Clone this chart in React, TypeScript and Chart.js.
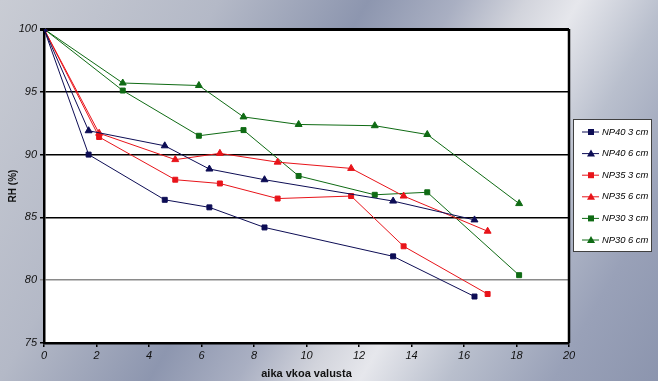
import React, { useEffect, useRef } from "react";
import { Chart, registerables } from "chart.js";

Chart.register(...registerables);

const seriesNames = ["NP40 3 cm", "NP40 6 cm", "NP35 3 cm", "NP35 6 cm", "NP30 3 cm", "NP30 6 cm"];

const np40x = [0, 1.7, 4.6, 6.3, 8.4, 13.3, 16.4];
const np40_3 = [100, 90.0, 86.4, 85.8, 84.2, 81.9, 78.7];
const np40_6 = [100, 91.9, 90.7, 88.85, 88.0, 86.3, 84.8];

const np35x3 = [0, 2.1, 5.0, 6.7, 8.9, 11.7, 13.7, 16.9];
const np35_3 = [100, 91.4, 88.0, 87.7, 86.5, 86.7, 82.7, 78.9];
const np35x6 = [0, 2.1, 5.0, 6.7, 8.9, 11.7, 13.7, 16.9];
const np35_6 = [100, 91.7, 89.6, 90.1, 89.4, 88.9, 86.7, 83.9];

const np30x = [0, 3.0, 5.9, 7.6, 9.7, 12.6, 14.6, 18.1];
const np30_3 = [100, 95.1, 91.5, 91.95, 88.3, 86.8, 87.0, 80.4];
const np30_6 = [100, 95.7, 95.5, 93.0, 92.4, 92.3, 91.6, 86.1];

const xTicks = [0, 2, 4, 6, 8, 10, 12, 14, 16, 18, 20];
const yTicks = [75, 80, 85, 90, 95, 100];

const NAVY = "#0d0d55";
const RED = "#e8141a";
const GREEN = "#0f6b14";

const pts = (xs: number[], ys: number[]) => xs.map((x, i) => ({ x, y: ys[i] }));

export default function App() {
  const ref = useRef<HTMLCanvasElement | null>(null);
  useEffect(() => {
    if (!ref.current) return;
    const mk = (label: string, data: any[], color: string, style: string) => ({
      label,
      data,
      borderColor: color,
      backgroundColor: color,
      borderWidth: 1,
      pointStyle: style,
      pointRadius: style === "triangle" ? 4 : 3.5,
      pointBorderWidth: 1,
      showLine: true,
      tension: 0,
    });
    const datasets = [
      mk(seriesNames[0], pts(np40x, np40_3), NAVY, "rect"),
      mk(seriesNames[1], pts(np40x, np40_6), NAVY, "triangle"),
      mk(seriesNames[2], pts(np35x3, np35_3), RED, "rect"),
      mk(seriesNames[3], pts(np35x6, np35_6), RED, "triangle"),
      mk(seriesNames[4], pts(np30x, np30_3), GREEN, "rect"),
      mk(seriesNames[5], pts(np30x, np30_6), GREEN, "triangle"),
    ];
    const bgPlugin = {
      id: "bg",
      beforeDraw(chart: any) {
        const { ctx, chartArea: a } = chart;
        ctx.save();
        ctx.fillStyle = "#ffffff";
        ctx.fillRect(a.left, a.top, a.right - a.left, a.bottom - a.top);
        ctx.restore();
      },
      afterDraw(chart: any) {
        const { ctx, chartArea: a } = chart;
        ctx.save();
        ctx.strokeStyle = "#000";
        ctx.lineWidth = 2.5;
        ctx.beginPath();
        ctx.moveTo(a.right, a.top);
        ctx.lineTo(a.right, a.bottom);
        ctx.stroke();
        // legend
        const lx = 573, ly = 119, lw = 78, lh = 132;
        ctx.fillStyle = "#ffffff";
        ctx.fillRect(lx, ly, lw, lh);
        ctx.strokeStyle = "#404040";
        ctx.lineWidth = 1;
        ctx.strokeRect(lx + 0.5, ly + 0.5, lw, lh);
        ctx.font = "italic 9.4px 'Liberation Sans', Arial, sans-serif";
        ctx.textBaseline = "middle";
        chart.data.datasets.forEach((d: any, i: number) => {
          const y = 132 + i * 21.6;
          ctx.strokeStyle = d.borderColor;
          ctx.fillStyle = d.borderColor;
          ctx.lineWidth = 1;
          ctx.beginPath();
          ctx.moveTo(582, y);
          ctx.lineTo(599, y);
          ctx.stroke();
          if (d.pointStyle === "rect") {
            ctx.fillRect(588, y - 3, 6, 6);
          } else {
            ctx.beginPath();
            ctx.moveTo(591, y - 4);
            ctx.lineTo(595, y + 3);
            ctx.lineTo(587, y + 3);
            ctx.closePath();
            ctx.fill();
          }
          ctx.fillStyle = "#000";
          ctx.fillText(d.label, 602, y);
        });
        ctx.restore();
      },
    };
    const tickFont = { family: "'Liberation Sans', Arial, sans-serif", size: 11, style: "italic" as const };
    const chart = new Chart(ref.current, {
      type: "scatter",
      data: { datasets: datasets as any },
      options: {
        animation: false,
        responsive: false,
        maintainAspectRatio: false,
        layout: { padding: { left: 0, top: 29, right: 89, bottom: 0 } },
        plugins: { legend: { display: false }, tooltip: { enabled: false }, title: { display: false } },
        scales: {
          x: {
            type: "linear",
            min: 0,
            max: 20,
            afterBuildTicks: (s: any) => { s.ticks = xTicks.map((v) => ({ value: v })); },
            afterFit: (s: any) => { s.height = 38; },
            ticks: { color: "#111", font: tickFont, padding: 2, maxRotation: 0 },
            grid: { drawOnChartArea: false, drawTicks: true, tickLength: 4, color: "#000", lineWidth: 1.5 },
            border: { display: true, color: "#000", width: 2.5 },
            title: {
              display: true,
              text: "aika vkoa valusta",
              color: "#111",
              font: { family: "'Liberation Sans', Arial, sans-serif", size: 11, weight: "bold" },
              padding: { top: 1, bottom: 0 },
            },
          },
          y: {
            type: "linear",
            min: 75,
            max: 100,
            afterBuildTicks: (s: any) => { s.ticks = yTicks.map((v) => ({ value: v })); },
            afterFit: (s: any) => { s.width = 44; },
            ticks: { color: "#111", font: tickFont, padding: 3 },
            grid: {
              drawTicks: true,
              tickLength: 4,
              color: (c: any) => (c.tick && c.tick.value === 80 ? "#8a8a8a" : "#000"),
              lineWidth: (c: any) => (c.tick && c.tick.value === 100 ? 3 : 1.5),
            },
            border: { display: true, color: "#000", width: 2.5 },
            title: {
              display: true,
              text: "RH (%)",
              color: "#111",
              font: { family: "'Liberation Sans', Arial, sans-serif", size: 10, weight: "bold" },
              padding: { top: 7, bottom: 2 },
            },
          },
        },
      },
      plugins: [bgPlugin],
    } as any);
    return () => chart.destroy();
  }, []);
  return (
    <div
      style={{
        position: "fixed",
        left: 0,
        top: 0,
        width: 658,
        height: 381,
        background:
          "linear-gradient(120deg, #c9ccd4 0%, #b4b9c7 25%, #8d96af 42%, #a9afc2 52%, #d2d4dc 60%, #e6e7ec 66%, #b9bfcd 76%, #99a1b8 88%, #8c95ae 100%)",
      }}
    >
      <canvas ref={ref} width={658} height={381} style={{ display: "block" }} />
    </div>
  );
}
